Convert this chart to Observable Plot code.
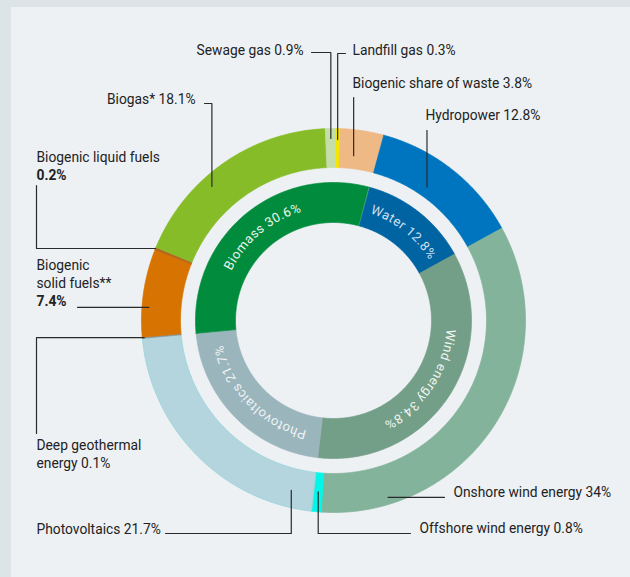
<!DOCTYPE html>
<html><head><meta charset="utf-8">
<script src="https://cdn.jsdelivr.net/npm/d3@7"></script>
<script src="https://cdn.jsdelivr.net/npm/@observablehq/plot@0.6"></script>
<style>
html,body{margin:0;padding:0;background:#dce4e8;}
#wrap{position:relative;width:630px;height:577px;overflow:hidden;}
#panel{position:absolute;left:11px;top:7px;right:0;bottom:0;background:#edf1f4;}
#chart{position:absolute;left:0;top:0;}
</style></head><body>
<div id="wrap"><div id="panel"></div><div id="chart"></div></div>
<script>
// ---- Data ----
const outerNames = ["Biogenic share of waste","Hydropower","Onshore wind energy","Offshore wind energy","Photovoltaics","Deep geothermal energy","Biogenic solid fuels**","Biogenic liquid fuels","Biogas*","Sewage gas","Landfill gas"];
const outerValues = [3.8, 12.8, 34, 0.8, 21.7, 0.1, 7.4, 0.2, 18.1, 0.9, 0.3];
const outerColors = ["#efb986","#0075bf","#83b39a","#00f7ea","#b4d5dd","#8a9296","#d77300","#b5651d","#87bc29","#c5dea9","#f3e600"];
const innerNames = ["Water","Wind energy","Photovoltaics","Biomass"];
const innerValues = [12.8, 34.8, 21.7, 30.6];
const innerColors = ["#0063a2","#739e87","#9bb5bc","#008c3c"];
const innerTextColors = ["#cfe0f0","#eef4ef","#eef3f4","#eaf4ec"];
const innerStartShare = 3.8; // inner ring begins after the biogenic share of waste

// ---- Layout (pixels) ----
const cx = 333, cy = 320;
const outerRing = [153, 192], innerRing = [98, 138];
const rotation = 1.5; // degrees
const labelLayout = [
  {x:352, y:83,  anchor:"start", split:null, leader:{type:"v",  from:97,       t:0.4,  r:166}},
  {x:425, y:115, anchor:"start", split:null, leader:{type:"v",  from:130,      t:0.43, r:163}},
  {x:453, y:492, anchor:"start", split:null, leader:{type:"h",  from:444,      t:0.83, r:185}},
  {x:419, y:528, anchor:"start", split:null, leader:{type:"hv", from:[410,533], t:0.5, r:172}},
  {x:36,  y:529, anchor:"start", split:null, leader:{type:"hv", from:[165,533], t:0.095, r:175}},
  {x:36,  y:445, anchor:"start", split:[2,2], leader:{type:"vh", from:[36,433], t:0.5, r:190}},
  {x:36,  y:265, anchor:"start", split:[1,2,1], bold:true, leader:{type:"h", from:77, t:0.34, r:185}},
  {x:36,  y:157, anchor:"start", split:[3,1], bold:true, leader:{type:"vh", from:[36,185], t:0.5, r:192}},
  {x:195, y:99,  anchor:"end",   split:null, leader:{type:"hv", from:[204,103], t:0.39, r:181}},
  {x:303, y:50,  anchor:"end",   split:null, leader:{type:"hv", from:[311,52], t:0.5, r:182}},
  {x:352, y:50,  anchor:"start", split:null, leader:{type:"hv", from:[345,53], t:0.5, r:181}}
];
const lineHeight = 18;
const labelFontSize = 13.8;
const innerFontSize = 13;
const innerLetterSpacing = 0.5;
const innerBaselineRadius = 113.5;

// ---- Geometry helpers ----
const deg = Math.PI / 180;
const polar = (a, r) => [cx + r * Math.sin(a * deg), cy - r * Math.cos(a * deg)];
function segments(values, startShare) {
  let acc = startShare;
  return values.map(v => { const a0 = acc * 3.6 + rotation; acc += v; return {a0, a1: acc * 3.6 + rotation}; });
}
function arcPolygon(seg, ring, key, color, stroke) {
  const pts = [];
  const n = Math.max(2, Math.ceil((seg.a1 - seg.a0) / 0.5) + 1);
  for (let i = 0; i < n; i++) { const a = seg.a0 + (seg.a1 - seg.a0) * i / (n - 1); const [x, y] = polar(a, ring[1]); pts.push({x, y, key, color, stroke}); }
  for (let i = n - 1; i >= 0; i--) { const a = seg.a0 + (seg.a1 - seg.a0) * i / (n - 1); const [x, y] = polar(a, ring[0]); pts.push({x, y, key, color, stroke}); }
  pts.push({...pts[0]});
  return pts;
}

const outerSegs = segments(outerValues, 0);
const innerSegs = segments(innerValues, innerStartShare);

const arcPoints = [];
outerSegs.forEach((s, i) => arcPoints.push(...arcPolygon(s, outerRing, "o" + i, outerColors[i], i === 4 ? "#8fd3d8" : outerColors[i])));
innerSegs.forEach((s, i) => arcPoints.push(...arcPolygon(s, innerRing, "i" + i, innerColors[i], innerColors[i])));

// outer labels
const labelRows = [];
const leaderPoints = [];
outerNames.forEach((name, i) => {
  const L = labelLayout[i];
  const words = (name + " " + outerValues[i] + "%").split(" ");
  const split = L.split || [words.length];
  let w = 0;
  split.forEach((cnt, li) => {
    const text = words.slice(w, w + cnt).join(" ");
    w += cnt;
    labelRows.push({x: L.x, y: L.y + li * lineHeight, text, anchor: L.anchor, bold: !!L.bold && li === split.length - 1});
  });
  const ld = L.leader, s = outerSegs[i];
  const [ex, ey] = polar(s.a0 + (s.a1 - s.a0) * ld.t, ld.r);
  let path;
  if (ld.type === "v") path = [[ex, ld.from], [ex, ey]];
  else if (ld.type === "h") path = [[ld.from, ey], [ex, ey]];
  else if (ld.type === "hv") path = [ld.from, [ex, ld.from[1]], [ex, ey]];
  else path = [ld.from, [ld.from[0], ey], [ex, ey]];
  path.forEach(([x, y]) => leaderPoints.push({x, y, key: "l" + i}));
});

// inner labels
const innerLabelData = innerNames.map((name, i) => {
  const mid = (innerSegs[i].a0 + innerSegs[i].a1) / 2;
  const [x, y] = polar(mid, (innerRing[0] + innerRing[1]) / 2);
  return {x, y, mid, text: name + " " + innerValues[i] + "%", color: innerTextColors[i]};
});

const font = "Roboto, 'Noto Sans', sans-serif";
const plot = Plot.plot({
  width: 630, height: 577, margin: 0,
  x: {domain: [0, 630], range: [0, 630], axis: null},
  y: {domain: [0, 577], range: [0, 577], axis: null},
  color: {type: "identity"},
  style: {background: "transparent", fontFamily: font, overflow: "visible"},
  marks: [
    Plot.line(arcPoints, {x: "x", y: "y", z: "key", fill: "color", stroke: "stroke", strokeWidth: 0.7, curve: "linear"}),
    Plot.line(leaderPoints, {x: "x", y: "y", z: "key", stroke: "#2a2a2a", strokeWidth: 1.2, curve: "linear"}),
    Plot.text(labelRows.filter(d => d.anchor === "start" && !d.bold), {x: "x", y: "y", text: "text", textAnchor: "start", fontSize: labelFontSize, fill: "#222"}),
    Plot.text(labelRows.filter(d => d.anchor === "end" && !d.bold), {x: "x", y: "y", text: "text", textAnchor: "end", fontSize: labelFontSize, fill: "#222"}),
    Plot.text(labelRows.filter(d => d.bold), {x: "x", y: "y", text: "text", textAnchor: "start", fontSize: labelFontSize, fontWeight: "bold", fill: "#222"}),
    Plot.text(innerLabelData, {x: "x", y: "y", text: "text", fill: "color", fontSize: innerFontSize})
  ]
});

// bend inner labels along the ring: per-glyph x / y / rotate on the same <text>
// (the inner-label mark is drawn last, so scan the texts from the end)
const sx = plot.scale("x"), sy = plot.scale("y");
const ctx = document.createElement("canvas").getContext("2d");
ctx.font = `${innerFontSize}px Roboto`;
const innerTexts = new Map(innerLabelData.map(d => [d.text, d]));
Array.from(plot.querySelectorAll("text")).reverse().forEach(t => {
  const key = t.textContent.trim();
  const d = innerTexts.get(key);
  if (!d) return;
  innerTexts.delete(key);
  const chars = Array.from(d.text);
  const widths = chars.map(c => ctx.measureText(c).width + innerLetterSpacing);
  const total = d3.sum(widths) - innerLetterSpacing;
  const rb = innerBaselineRadius;
  let theta = d.mid - (total / rb) / deg / 2;
  const xs = [], ys = [], rs = [];
  chars.forEach((c, k) => {
    const [px, py] = polar(theta, rb);
    const thc = theta + (widths[k] / 2 / rb) / deg;
    xs.push(sx.apply(px).toFixed(2));
    ys.push(sy.apply(py).toFixed(2));
    rs.push(thc.toFixed(2));
    theta += (widths[k] / rb) / deg;
  });
  t.removeAttribute("transform");
  t.removeAttribute("dy");
  t.setAttribute("text-anchor", "start");
  t.setAttribute("x", xs.join(" "));
  t.setAttribute("y", ys.join(" "));
  t.setAttribute("rotate", rs.join(" "));
});
document.getElementById("chart").appendChild(plot);
</script>
</body></html>
